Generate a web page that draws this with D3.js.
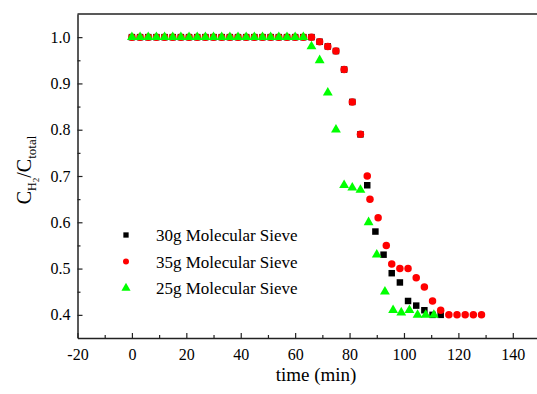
<!DOCTYPE html>
<html>
<head>
<meta charset="utf-8">
<script src="https://cdn.jsdelivr.net/npm/d3@7"></script>
<style>
  body { margin: 0; background: #fff; }
  svg { display: block; }
</style>
</head>
<body>
<svg id="chart" width="537" height="394"></svg>
<script>
// time (min) and C_H2/C_total
const time30 = [0, 3, 6, 9, 12, 15, 18, 21, 24, 27, 30, 33, 36, 39, 42, 45, 48, 51, 54, 57, 60, 63,
    66, 69, 72, 75, 78, 81, 84, 86.5, 89.5, 92.5, 95.5, 98.5, 101.5, 104.5, 107.5, 110.5, 113.5]
const ratio30 = [1, 1, 1, 1, 1, 1, 1, 1, 1, 1, 1, 1, 1, 1, 1, 1, 1, 1, 1, 1, 1, 1,
    1, 0.99, 0.98, 0.97, 0.93, 0.86, 0.79, 0.68, 0.58, 0.53, 0.49, 0.47, 0.43, 0.42, 0.41, 0.40, 0.40]

const time35 = [0, 3, 6, 9, 12, 15, 18, 21, 24, 27, 30, 33, 36, 39, 42, 45, 48, 51, 54, 57, 60, 63,
    66, 69, 72, 75, 78, 81, 84, 86.5, 87.5, 90.5, 93.5, 95.5, 98.5, 101.5, 104.5, 107.5, 110.5, 113.5,
    116.5, 119.5, 122.5, 125.5, 128.5]
const ratio35 = [1, 1, 1, 1, 1, 1, 1, 1, 1, 1, 1, 1, 1, 1, 1, 1, 1, 1, 1, 1, 1, 1,
    1, 0.99, 0.98, 0.97, 0.93, 0.86, 0.79, 0.70, 0.65, 0.61, 0.55, 0.51, 0.50, 0.50, 0.48, 0.46, 0.43, 0.41,
    0.40, 0.40, 0.40, 0.40, 0.40]

const time25 = [0, 3, 6, 9, 12, 15, 18, 21, 24, 27, 30, 33, 36, 39, 42, 45, 48, 51, 54, 57, 60, 63,
    66, 69, 72, 75, 78, 81, 84, 87, 90, 93, 96, 99, 102, 105, 108, 111]
const ratio25 = [1, 1, 1, 1, 1, 1, 1, 1, 1, 1, 1, 1, 1, 1, 1, 1, 1, 1, 1, 1, 1, 1,
    0.98, 0.95, 0.88, 0.80, 0.68, 0.675, 0.67, 0.60, 0.53, 0.45, 0.41, 0.405, 0.41, 0.40, 0.40, 0.40]

const seriesNames = ["30g Molecular Sieve", "35g Molecular Sieve", "25g Molecular Sieve"]
const seriesColors = ["#000000", "#ff0000", "#00ff00"]
const xTicks = [-20, 0, 20, 40, 60, 80, 100, 120, 140]
const yTicks = [0.4, 0.5, 0.6, 0.7, 0.8, 0.9, 1.0]

const FONT = "Liberation Serif"

const svg = d3.select("#chart")
const plot = { left: 77.5, top: 14, right: 540, bottom: 338 }

const x = d3.scaleLinear().domain([-20, 150]).range([plot.left, plot.right])
const y = d3.scaleLinear().domain([0.35, 1.05]).range([plot.bottom, plot.top])

const symbolTypes = [d3.symbolSquare, d3.symbolCircle, d3.symbolTriangle]
const symbolSizes = [42, 44, 42]

// axes, ticks inward
const axisColor = "#222"
function styleAxis(g) {
    g.attr("font-family", FONT)
    g.select(".domain").attr("stroke", axisColor).attr("stroke-width", 1.5)
    g.selectAll(".tick line").attr("stroke", axisColor).attr("stroke-width", 1.2)
    g.selectAll("text").attr("font-size", "16px").attr("font-family", FONT).attr("fill", "#000")
}

// minor ticks first
svg.append("g")
    .attr("transform", "translate(0," + plot.bottom + ")")
    .call(d3.axisBottom(x).tickValues(d3.range(-10, 150, 20)).tickSize(-3).tickFormat("").tickSizeOuter(0))
    .call(g => g.select(".domain").remove())
    .call(g => g.selectAll("line").attr("stroke", axisColor).attr("stroke-width", 1.2))
svg.append("g")
    .attr("transform", "translate(" + plot.left + ",0)")
    .call(d3.axisLeft(y).tickValues([0.45, 0.55, 0.65, 0.75, 0.85, 0.95]).tickSize(-3).tickFormat("").tickSizeOuter(0))
    .call(g => g.select(".domain").remove())
    .call(g => g.selectAll("line").attr("stroke", axisColor).attr("stroke-width", 1.2))

svg.append("g")
    .attr("transform", "translate(0," + plot.bottom + ")")
    .call(d3.axisBottom(x).tickValues(xTicks).tickSize(-5).tickSizeOuter(0).tickPadding(11)
        .tickFormat(d => String(d)))
    .call(styleAxis)

svg.append("g")
    .attr("transform", "translate(" + plot.left + ",0)")
    .call(d3.axisLeft(y).tickValues(yTicks).tickSize(-5).tickSizeOuter(0).tickPadding(7).tickFormat(d3.format(".1f")))
    .call(styleAxis)

// top frame line
svg.append("line")
    .attr("x1", plot.left).attr("x2", plot.right)
    .attr("y1", plot.top).attr("y2", plot.top)
    .attr("stroke", axisColor).attr("stroke-width", 1.5)

// axis titles
svg.append("text")
    .attr("x", 316).attr("y", 381)
    .attr("text-anchor", "middle")
    .attr("font-family", FONT)
    .attr("font-size", "19px")
    .text("time (min)")

const yTitle = svg.append("text")
    .attr("transform", "translate(31,170) rotate(-90)")
    .attr("text-anchor", "middle")
    .attr("font-family", FONT)
    .attr("font-size", "20px")
yTitle.append("tspan").text("C")
yTitle.append("tspan").attr("font-size", "12px").attr("dy", 5).text("H")
yTitle.append("tspan").attr("font-size", "9px").attr("dy", 3).text("2")
yTitle.append("tspan").attr("dy", -8).text("/C")
yTitle.append("tspan").attr("font-size", "13px").attr("dy", 5).text("total")

// points
const allSeries = [
    time30.map((t, i) => [t, ratio30[i]]),
    time35.map((t, i) => [t, ratio35[i]]),
    time25.map((t, i) => [t, ratio25[i]])
]

allSeries.forEach((data, s) => {
    svg.append("g")
        .selectAll("path")
        .data(data)
        .enter()
        .append("path")
        .attr("d", d3.symbol().type(symbolTypes[s]).size(symbolSizes[s]))
        .attr("transform", d => "translate(" + x(d[0]) + "," + y(d[1]) + ")")
        .attr("fill", seriesColors[s])
})

// legend
seriesNames.forEach((name, i) => {
    const ly = 235 + i * 26.5
    svg.append("path")
        .attr("d", d3.symbol().type(symbolTypes[i]).size(i == 2 ? 36 : 28)())
        .attr("transform", "translate(126," + ly + ")")
        .attr("fill", seriesColors[i])
    svg.append("text")
        .attr("x", 156).attr("y", ly + 6)
        .attr("font-family", FONT)
        .attr("font-size", "17px")
        .text(name)
})
</script>
</body>
</html>
